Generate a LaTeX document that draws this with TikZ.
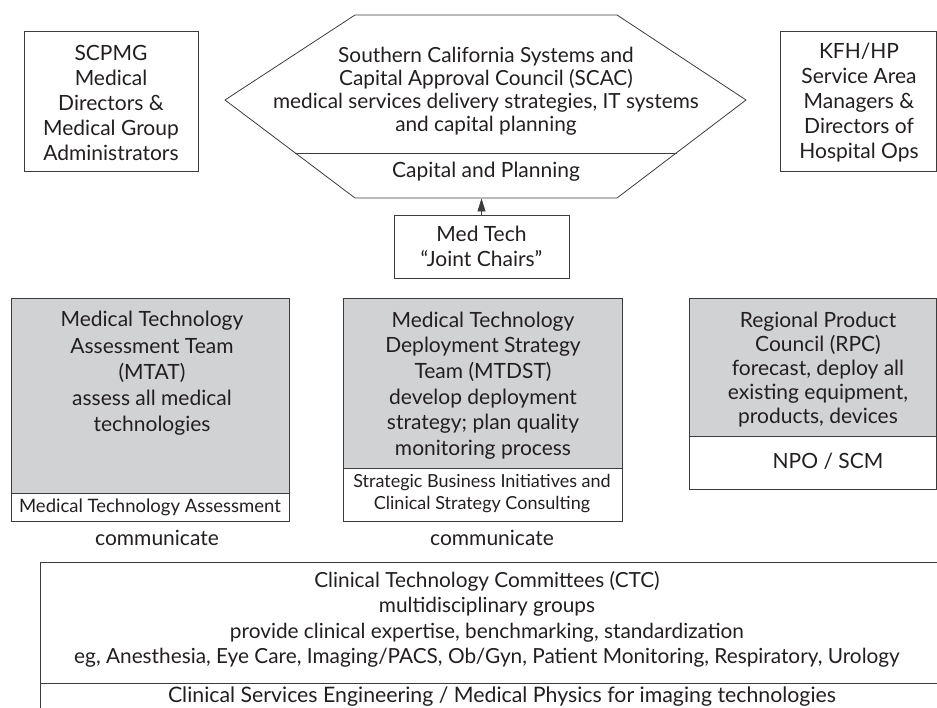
\documentclass[tikz,border=0pt]{standalone}
\usepackage{fontspec}
\setmainfont{Lato}
\usetikzlibrary{arrows.meta}
\definecolor{boxgray}{RGB}{209,210,212}
\definecolor{linec}{RGB}{60,60,60}
\definecolor{textc}{RGB}{35,31,32}
\begin{document}
\begin{tikzpicture}[x=1pt,y=-1pt,line width=0.8pt,
  txt/.style={align=center,inner sep=0pt,text=textc,font=\fontsize{21}{25}\selectfont},
  smalltxt/.style={align=center,inner sep=0pt,text=textc,font=\fontsize{18.5}{22}\selectfont},
  box/.style={draw=linec,inner sep=0pt}]
\useasboundingbox (0,0) rectangle (937,708);

% top side boxes
\node[box,minimum width=174pt,minimum height=140pt] (scpmgbox) at (111,101) {};
\node[txt] (scpmg) at (111,103) {SCPMG\\Medical\\Directors \&\\Medical Group\\Administrators};
\node[box,minimum width=156.5pt,minimum height=140pt] (kfhbox) at (858.25,101) {};
\node[txt] (kfh) at (859,103) {KFH/HP\\Service Area\\Managers \&\\Directors of\\Hospital Ops};

% hexagon
\draw[linec] (355,15) -- (617,15) -- (746,100) -- (617,198) -- (355,198) -- (225,100) -- cycle;
\draw[linec] (295,153) -- (677,153);
\node[txt,font=\fontsize{20.8}{23}\selectfont] (scac) at (486,91.5) {Southern California Systems and\\Capital Approval Council (SCAC)\\medical services delivery strategies, IT systems\\and capital planning};
\node[txt] (cap) at (486,172) {Capital and Planning};
\coordinate (hexbot) at (481.5,198.5);

% Med Tech joint chairs
\node[box,txt,draw=linec,minimum width=175pt,minimum height=63pt] (medtech) at (481.5,246.5) {Med Tech\\“Joint Chairs”};
\draw[linec,-{Triangle[width=8pt,length=13pt]}] (medtech.north) -- (hexbot);

% MTAT
\fill[boxgray] (11,298) rectangle (289,493);
\draw[linec] (11,298) rectangle (289,521);
\draw[linec] (11,493) -- (289,493);
\node[txt,font=\fontsize{21}{26.3}\selectfont] (mtat) at (152,373.5) {Medical Technology\\Assessment Team\\(MTAT)\\assess all medical\\technologies};
\node[smalltxt] (mtatf) at (150,507) {Medical Technology Assessment};
\node[txt] (comm1) at (157,538) {communicate};

% MTDST
\fill[boxgray] (343,298) rectangle (622,468);
\draw[linec] (343,298) rectangle (622,521);
\draw[linec] (343,468) -- (622,468);
\node[txt,font=\fontsize{21}{25.6}\selectfont] (mtdst) at (483,385.5) {Medical Technology\\Deployment Strategy\\Team (MTDST)\\develop deployment\\strategy; plan quality\\monitoring process};
\node[smalltxt,font=\fontsize{18}{22}\selectfont] (mtdstf) at (482,494) {Strategic Business Initiatives and\\Clinical Strategy Consulting};
\node[txt] (comm2) at (492,538) {communicate};

% RPC
\fill[boxgray] (689,298) rectangle (936.5,436);
\draw[linec] (689,298) rectangle (936.5,489);
\draw[linec] (689,436) -- (936.5,436);
\node[txt,font=\fontsize{21}{24}\selectfont] (rpc) at (818,370) {Regional Product\\Council (RPC)\\forecast, deploy all\\existing equipment,\\products, devices};
\node[txt] (npo) at (828,461) {NPO / SCM};

% CTC
\draw[linec] (937,562) -- (40,562) -- (40,708);
\draw[linec] (40,683) -- (937,683);
\node[txt,font=\fontsize{20.8}{25.5}\selectfont] (ctc) at (487,619.5) {Clinical Technology Committees (CTC)\\multidisciplinary groups\\provide clinical expertise, benchmarking, standardization\\eg, Anesthesia, Eye Care, Imaging/PACS, Ob/Gyn, Patient Monitoring, Respiratory, Urology};
\node[txt,font=\fontsize{21.3}{25.5}\selectfont] (cse) at (502,696.5) {Clinical Services Engineering / Medical Physics for imaging technologies};
\end{tikzpicture}
\end{document}
